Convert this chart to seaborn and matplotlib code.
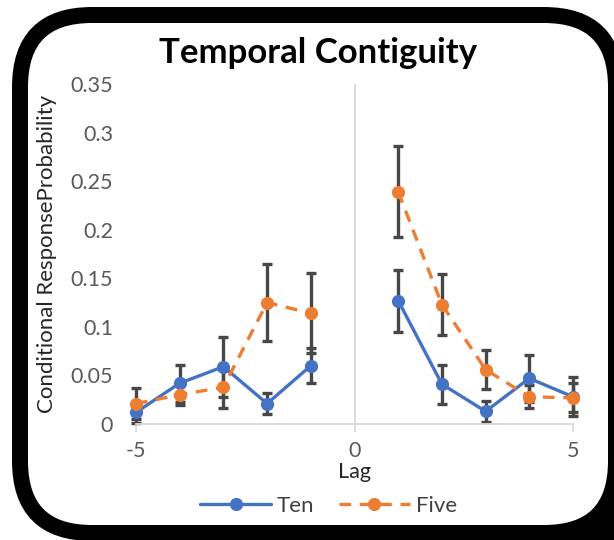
import seaborn as sns
import numpy as np
import pandas as pd
import matplotlib.pyplot as plt
from matplotlib.patches import FancyBboxPatch, Rectangle
from matplotlib.lines import Line2D
from matplotlib.transforms import IdentityTransform

sns.set_style("white")
plt.rcParams['font.family'] = ['Lato', 'DejaVu Sans']
plt.rcParams['axes.unicode_minus'] = False

# lag positions (no point at 0)
lags = [-5, -4, -3, -2, -1, 1, 2, 3, 4, 5]

# conditional response probability
ten = [0.012, 0.042, 0.059, 0.021, 0.060, 0.127, 0.041, 0.013, 0.047, 0.028]
five = [0.021, 0.030, 0.038, 0.125, 0.114, 0.239, 0.123, 0.056, 0.028, 0.027]

# error bar half-widths
ten_err = [0.011, 0.019, 0.031, 0.011, 0.018, 0.032, 0.020, 0.011, 0.024, 0.020]
five_err = [0.016, 0.010, 0.022, 0.040, 0.041, 0.047, 0.031, 0.020, 0.012, 0.015]

series = ["Ten", "Five"]
colors = {"Ten": "#4472C4", "Five": "#ED7D31"}

rows = []
for name, vals in [("Ten", ten), ("Five", five)]:
    for lag, v in zip(lags, vals):
        rows.append({"lag": lag, "crp": v, "list": name, "side": "neg" if lag < 0 else "pos"})
df = pd.DataFrame(rows)

fig = plt.figure(figsize=(6.14, 5.4), dpi=100, facecolor="white")
ax = fig.add_axes([136 / 614, 1 - 424 / 540, (573 - 136) / 614, (424 - 84) / 540])
ax.patch.set_alpha(0)

# error bars first, under the lines
for name, vals, errs in [("Ten", ten, ten_err), ("Five", five, five_err)]:
    ax.errorbar(lags, vals, yerr=errs, fmt="none", ecolor="#474747",
                elinewidth=2.4, capsize=3.8, capthick=2.4, zorder=2, clip_on=False)

sns.lineplot(data=df, x="lag", y="crp", hue="list", style="list", units="side",
             estimator=None, palette=colors, hue_order=series, style_order=series,
             dashes={"Ten": "", "Five": (3.5, 2.6)}, markers={"Ten": "o", "Five": "o"},
             markersize=9.5, markeredgewidth=0, linewidth=2.4, legend=False, ax=ax,
             zorder=3, clip_on=False)
for ln in ax.lines:
    ln.set_clip_on(False)

ax.set_xlim(-5, 5)
ax.set_ylim(0, 0.35)
ax.set_xticks([-5, 0, 5])
ax.set_yticks(np.arange(0, 0.351, 0.05))
ax.set_yticklabels(["0", "0.05", "0.1", "0.15", "0.2", "0.25", "0.3", "0.35"])
ax.axvline(0, color="#d9d9d9", lw=1.3, zorder=1)

for s in ["top", "right", "left"]:
    ax.spines[s].set_visible(False)
ax.spines["bottom"].set_color("#d9d9d9")
ax.spines["bottom"].set_linewidth(1.3)
ax.tick_params(axis="x", bottom=True, length=6, width=1.3, color="#d9d9d9",
               labelsize=15.5, labelcolor="#595959", pad=6)
ax.tick_params(axis="y", left=False, labelsize=15.5, labelcolor="#595959", pad=13)

ax.set_xlabel("Lag", fontsize=15.5, color="#262626", labelpad=1)
ax.set_ylabel("Conditional ResponseProbability", fontsize=16, color="#262626", labelpad=10)

fig.text(0.518, 1 - 53 / 540, "Temporal Contiguity", ha="center", va="center",
         fontsize=25, fontweight="bold", color="black")

handles = [Line2D([], [], color=colors["Ten"], lw=2.4, marker="o", markersize=9.5, markeredgewidth=0),
           Line2D([], [], color=colors["Five"], lw=2.4, ls=(0, (3.5, 2.6)), marker="o",
                  markersize=9.5, markeredgewidth=0)]
fig.legend(handles, series, loc="center", bbox_to_anchor=(0.535, 1 - 506 / 540), ncol=2,
           frameon=False, fontsize=16, handlelength=3.2, handletextpad=0.25,
           columnspacing=1.1, labelcolor="#404040")

# black corner behind the frame (screenshot cut off at bottom right)
corner = Rectangle((520, 0), 94, 90, transform=IdentityTransform(),
                   facecolor="black", edgecolor="none", zorder=-3)
fig.patches.append(corner)

# rounded frame around the whole chart, in pixels
frame = FancyBboxPatch((20, 7), 596, 518, boxstyle="round,pad=0,rounding_size=72",
                       transform=IdentityTransform(), facecolor="white",
                       edgecolor="black", lw=11.5, clip_on=False, zorder=-2)
fig.patches.append(frame)

fig.savefig("out.png", dpi=100)
